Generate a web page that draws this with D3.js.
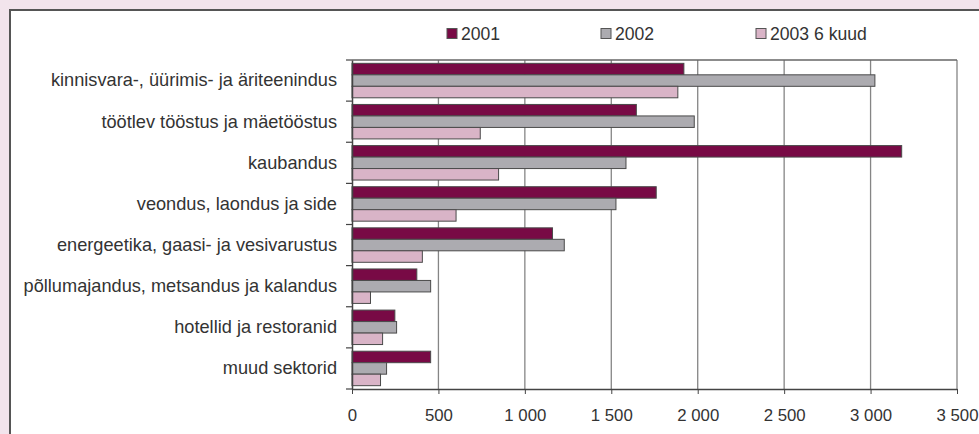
<!DOCTYPE html>
<html><head><meta charset="utf-8">
<script src="https://cdn.jsdelivr.net/npm/d3@7"></script>
<style>html,body{margin:0;padding:0;background:#f2e4ec;}svg{display:block;}</style>
</head><body>
<svg id="c" width="979" height="434"></svg>
<script>
const categories = ["kinnisvara-, üürimis- ja äriteenindus","töötlev tööstus ja mäetööstus","kaubandus","veondus, laondus ja side","energeetika, gaasi- ja vesivarustus","põllumajandus, metsandus ja kalandus","hotellid ja restoranid","muud sektorid"];
const seriesNames = ["2001","2002","2003 6 kuud"];
const v2001 = [1920,1645,3180,1760,1160,375,248,455];
const v2002 = [3025,1980,1585,1527,1228,455,258,200];
const v2003 = [1885,742,848,602,407,107,177,165];
const xTicks = [0,500,1000,1500,2000,2500,3000,3500];
const colors = ["#780a45","#acabb0","#d9b4c7"];

const svg = d3.select("#c");
const font = "'Liberation Sans', Arial, sans-serif";
// panel
svg.append("rect").attr("x",10).attr("y",10).attr("width",975).attr("height",430)
  .attr("fill","#fff").attr("stroke","#555").attr("stroke-width",2);

const pL=352, pR=957, pT=60, pB=389;
const x = d3.scaleLinear().domain([0,3500]).range([pL,pR]);
const y0 = d3.scaleBand().domain(categories).range([pT,pB]).padding(0);
const y1 = d3.scaleBand().domain(seriesNames).range([0,y0.bandwidth()]).paddingInner(0).paddingOuter(0.29);

// gridlines
svg.append("g").selectAll("line").data(xTicks.slice(1)).join("line")
  .attr("x1",d=>x(d)).attr("x2",d=>x(d)).attr("y1",pT).attr("y2",pB)
  .attr("stroke","#858585").attr("stroke-width",1.3);
// top border of plot
svg.append("line").attr("x1",pL).attr("x2",pR).attr("y1",pT).attr("y2",pT).attr("stroke","#666").attr("stroke-width",1.3);

const data = [v2001,v2002,v2003];
categories.forEach((c,i)=>{
  seriesNames.forEach((s,j)=>{
    svg.append("rect")
      .attr("x",x(0)).attr("y",y0(c)+y1(s))
      .attr("width",x(data[j][i])-x(0)).attr("height",y1.bandwidth())
      .attr("fill",colors[j]).attr("stroke","#4a4a4a").attr("stroke-width",1);
  });
});

// x axis
const xa = svg.append("g").attr("transform",`translate(0,${pB})`)
  .call(d3.axisBottom(x).tickValues(xTicks).tickSize(5).tickSizeOuter(0)
    .tickFormat(d=>d3.format(",")(d).replace(/,/g," ")));
xa.select(".domain").attr("stroke","#444").attr("stroke-width",1.5);
xa.selectAll(".tick line").attr("stroke","#444");
xa.selectAll("text").attr("font-family",font).attr("font-size",16.8).attr("fill","#333").attr("dy","0").attr("y",32);

// y axis
const ya = svg.append("g").attr("transform",`translate(${pL},0)`)
  .call(d3.axisLeft(y0).tickSize(0).tickPadding(15));
ya.select(".domain").attr("stroke","#444").attr("stroke-width",1.5);
ya.selectAll("text").attr("font-family",font).attr("font-size",18.2).attr("fill","#333");
// band boundary ticks
svg.append("g").selectAll("line").data(d3.range(categories.length+1)).join("line")
  .attr("x1",pL-6).attr("x2",pL).attr("y1",d=>pT+d*y0.step()).attr("y2",d=>pT+d*y0.step())
  .attr("stroke","#444").attr("stroke-width",1.2);

// legend
const legX = [447,601,756];
seriesNames.forEach((s,j)=>{
  svg.append("rect").attr("x",legX[j]).attr("y",28.5).attr("width",10).attr("height",10)
    .attr("fill",colors[j]).attr("stroke","#555").attr("stroke-width",1);
  svg.append("text").attr("x",legX[j]+14).attr("y",40).text(s)
    .attr("font-family",font).attr("font-size",17.6).attr("fill","#333");
});
</script>
</body></html>
